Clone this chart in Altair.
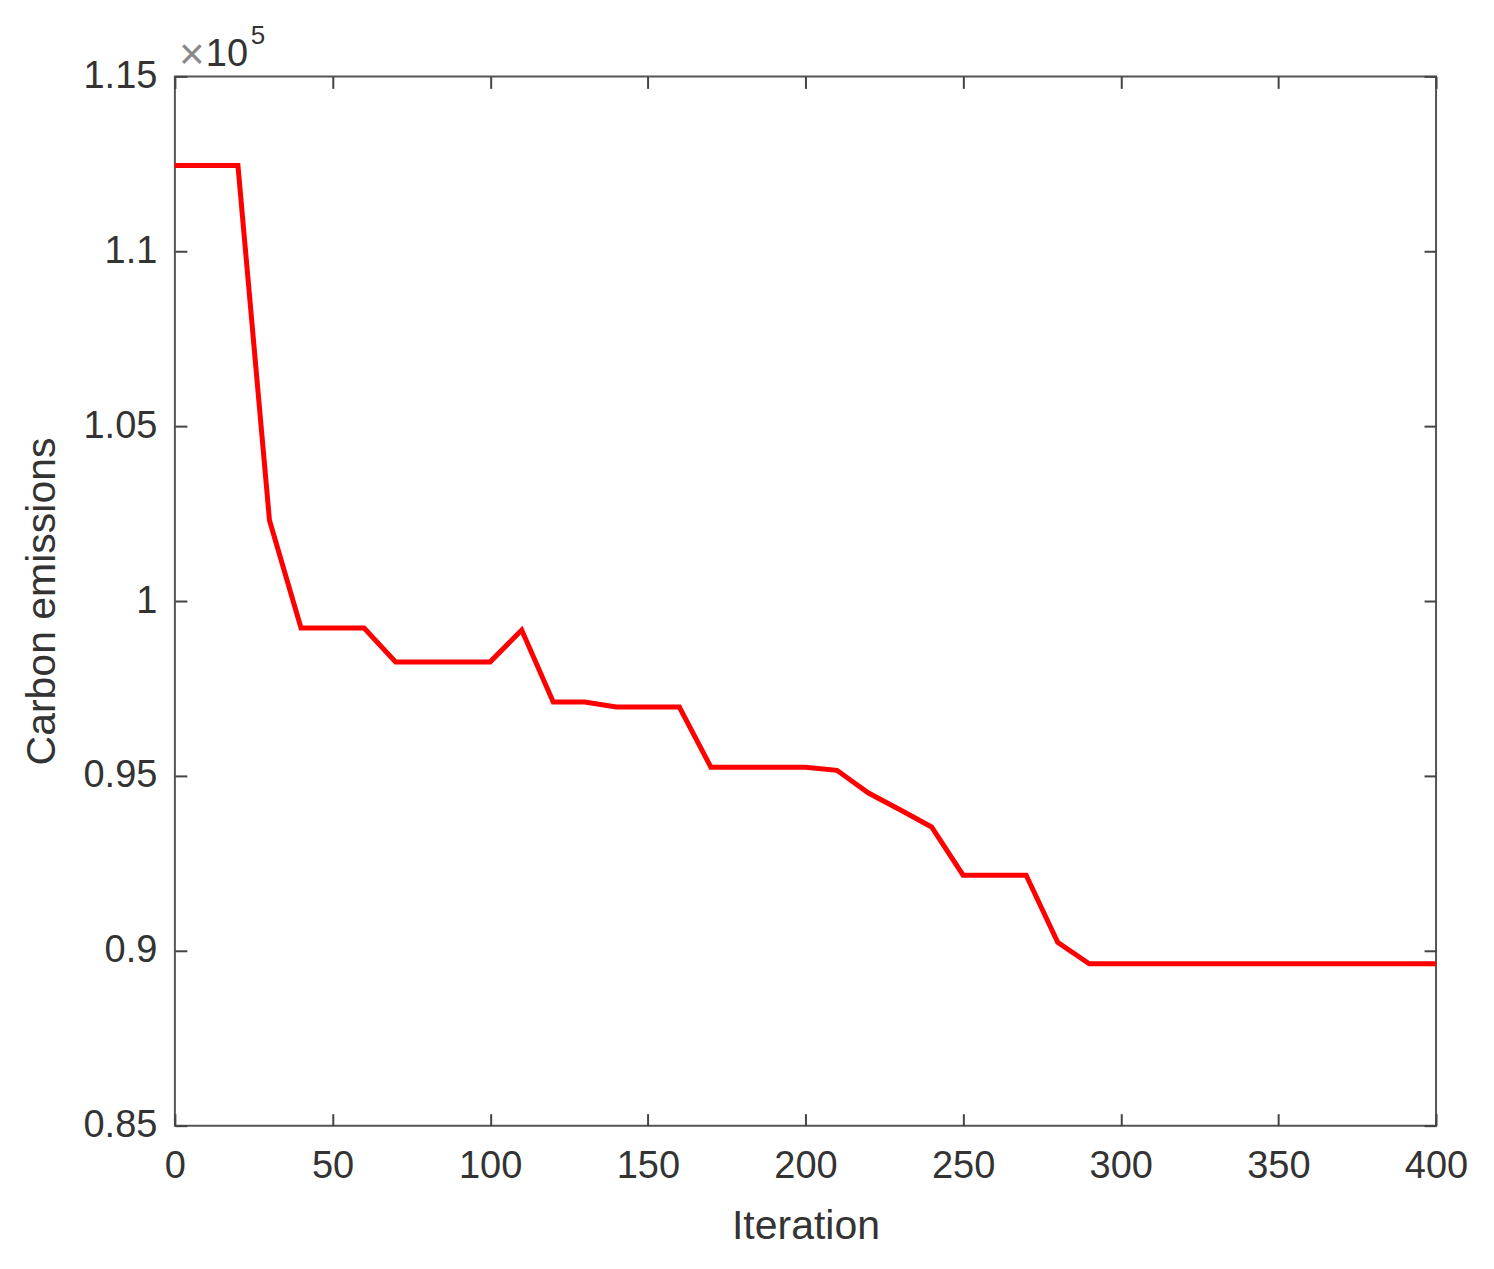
import altair as alt
import pandas as pd

# Iteration number and carbon emissions (displayed in units of 1e5)
iterations = list(range(0, 410, 10))
emissions_e5 = [
    1.1245, 1.1245, 1.1245, 1.0231, 0.9923, 0.9923, 0.9923, 0.9826, 0.9826, 0.9826,
    0.9826, 0.9917, 0.9711, 0.9711, 0.9697, 0.9697, 0.9697, 0.9525, 0.9525, 0.9525,
    0.9525, 0.9516, 0.9451, 0.9403, 0.9354, 0.9216, 0.9216, 0.9216, 0.9024, 0.8963,
    0.8963, 0.8963, 0.8963, 0.8963, 0.8963, 0.8963, 0.8963, 0.8963, 0.8963, 0.8963,
    0.8963,
]
x_ticks = [0, 50, 100, 150, 200, 250, 300, 350, 400]
y_ticks = [0.85, 0.9, 0.95, 1.0, 1.05, 1.1, 1.15]

df = pd.DataFrame({"Iteration": iterations, "Emissions": emissions_e5})

FONT = "Liberation Sans"
TXT = "#333333"
xs = alt.Scale(domain=[0, 400], nice=False, zero=False)
ys = alt.Scale(domain=[0.85, 1.15], nice=False, zero=False)


def tick_axis(orient, vals):
    return alt.Axis(orient=orient, values=vals, offset=-12, tickSize=12, ticks=True,
                    domain=False, labels=False, title=None, grid=False,
                    tickColor="#444444", tickWidth=2)


main = alt.Chart(df).mark_line(color="#ff0000", strokeWidth=5).encode(
    x=alt.X("Iteration:Q", scale=xs, axis=alt.Axis(
        orient="bottom", values=x_ticks, ticks=False, domain=False, grid=False,
        labelPadding=22, labelFontSize=38, labelFont=FONT, labelColor=TXT,
        labelFlush=False, labelOverlap=False,
        title="Iteration", titleFontSize=41, titleFont=FONT, titleFontWeight="normal",
        titleColor=TXT, titlePadding=21)),
    y=alt.Y("Emissions:Q", scale=ys, axis=alt.Axis(
        orient="left", values=y_ticks, format="~g", ticks=False, domain=False, grid=False,
        labelPadding=18, labelFontSize=38, labelFont=FONT, labelColor=TXT,
        labelOverlap=False,
        title="Carbon emissions", titleFontSize=41, titleFont=FONT, titleFontWeight="normal",
        titleColor=TXT, titlePadding=20)),
)

ticks_bl = alt.Chart(df).mark_line(opacity=0).encode(
    x=alt.X("Iteration:Q", scale=xs, axis=tick_axis("bottom", x_ticks)),
    y=alt.Y("Emissions:Q", scale=ys, axis=tick_axis("left", y_ticks)),
)
ticks_tr = alt.Chart(df).mark_line(opacity=0).encode(
    x=alt.X("Iteration:Q", scale=xs, axis=tick_axis("top", x_ticks)),
    y=alt.Y("Emissions:Q", scale=ys, axis=tick_axis("right", y_ticks)),
)

times = alt.Chart(pd.DataFrame({"t": ["×"]})).mark_text(
    font=FONT, fontSize=44, color="#888888", align="center", baseline="middle"
).encode(text="t:N", x=alt.value(17), y=alt.value(-20))
ten = alt.Chart(pd.DataFrame({"t": ["10"]})).mark_text(
    font=FONT, fontSize=38, color=TXT, align="left", baseline="alphabetic"
).encode(text="t:N", x=alt.value(31), y=alt.value(-10))
five = alt.Chart(pd.DataFrame({"t": ["5"]})).mark_text(
    font=FONT, fontSize=26, color=TXT, align="left", baseline="alphabetic"
).encode(text="t:N", x=alt.value(76), y=alt.value(-32))

chart = alt.layer(main, ticks_bl, ticks_tr, times, ten, five).resolve_axis(
    x="independent", y="independent"
).properties(
    width=1262, height=1050,
    autosize=alt.AutoSizeParams(type="none"),
    padding={"left": 167, "top": 68, "right": 50, "bottom": 130},
    background="white",
).configure_view(stroke="#555555", strokeWidth=2).configure_axis(grid=False)

chart.save("out.html", embed_options={"renderer": "svg", "actions": False})
